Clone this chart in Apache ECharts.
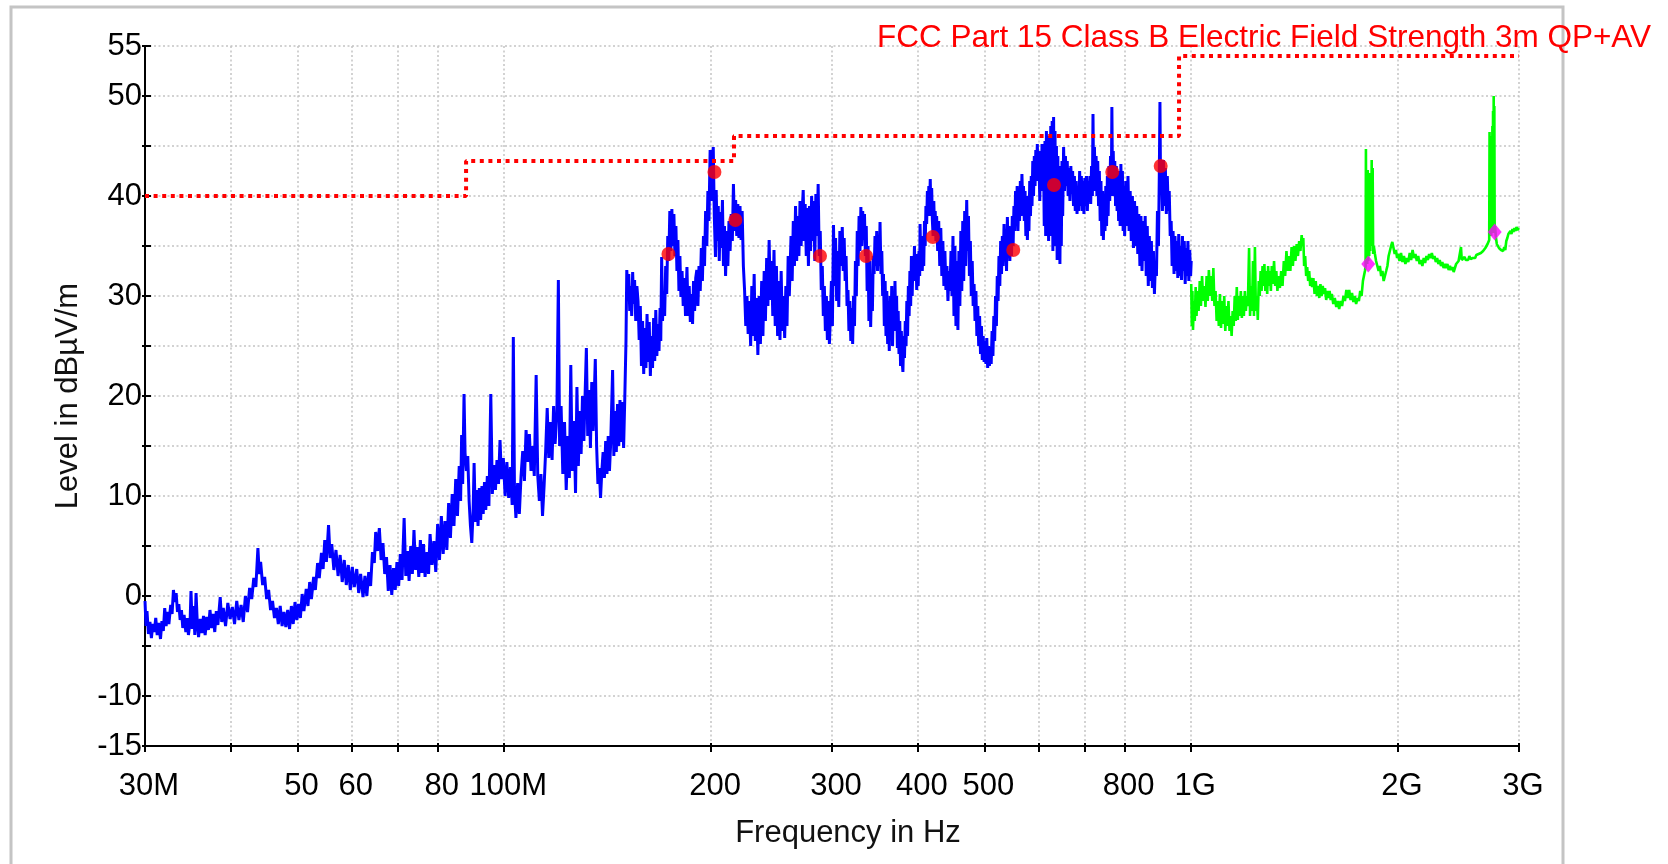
<!DOCTYPE html>
<html><head><meta charset="utf-8">
<script src="https://cdn.jsdelivr.net/npm/echarts@6/dist/echarts.min.js"></script>
<style>html,body{margin:0;padding:0;background:#fff}#c{width:1668px;height:864px}</style>
</head><body><div id="c"></div>
<script>
// ---- axis definitions (frequency in MHz, level in dBµV/m) ----
const xTickFreq = [30,40,50,60,70,80,100,200,300,400,500,600,700,800,1000,2000,3000];
const xLabelFreq = [30,50,60,80,100,200,300,400,500,800,1000,2000,3000];
const xLabelText = ['30M','50','60','80','100M','200','300','400','500','800','1G','2G','3G'];
const yLabelValues = [55,50,40,30,20,10,0,-10,-15];

// ---- limit line: FCC Part 15 Class B 3m ----
const limitFreq  = [30,88,88,216,216,960,960,3000];
const limitLevel = [40,40,43.5,43.5,46,46,54,54];

// ---- final measurement markers ----
const qpFreq  = [173.4,202.3,217.0,288.2,336.3,420.6,550.8,631.3,767.5,902.7];
const qpLevel = [34.2,42.4,37.6,34.0,34.0,35.9,34.6,41.1,42.4,43.0];
const avFreq  = [1810,2765];
const avLevel = [33.2,36.4];

// ---- preview scan 30 MHz - 1 GHz (blue) ----
const blueTrace = [
[30.0,-0.5],[30.1,-3.0],[30.2,-1.5],[30.35,-3.8],[30.5,-2.6],[30.65,-4.2],[30.8,-2.8],[30.95,-3.6],[31.1,-2.2],[31.25,-3.9],
[31.4,-2.7],[31.6,-4.3],[31.75,-2.5],[31.9,-3.5],[32.05,-1.2],[32.2,-3.0],[32.35,-1.6],[32.5,-2.8],[32.7,-0.9],[32.85,-1.8],
[33.0,0.6],[33.15,-0.6],[33.3,0.3],[33.45,-1.6],[33.6,-0.8],[33.75,-2.4],[33.9,-1.4],[34.05,-3.2],[34.2,-1.9],[34.4,-3.6],
[34.55,-2.2],[34.7,-3.9],[34.9,-2.4],[35.0,0.5],[35.15,-3.3],[35.3,-1.0],[35.45,-3.9],[35.6,0.3],[35.75,-2.8],[35.9,-4.1],
[36.1,-2.3],[36.3,-3.7],[36.5,-2.0],[36.7,-3.9],[36.9,-2.1],[37.1,-3.4],[37.3,-1.4],[37.5,-3.2],[37.7,-1.8],[37.9,-3.6],
[38.1,-1.5],[38.3,-2.9],[38.6,-0.1],[38.8,-2.6],[39.0,-1.2],[39.3,-3.0],[39.6,-0.7],[39.9,-2.3],[40.2,-1.1],[40.5,-2.8],
[40.8,-0.5],[41.1,-2.4],[41.4,-0.9],[41.7,-2.6],[42.0,0.0],[42.3,-1.6],[42.6,0.8],[42.9,-0.3],[43.2,1.8],[43.5,0.9],
[43.8,4.8],[44.0,2.2],[44.2,3.4],[44.5,1.1],[44.8,1.9],[45.1,-0.3],[45.4,0.6],[45.7,-1.4],[46.0,-0.5],[46.3,-2.2],
[46.6,-1.2],[46.9,-2.8],[47.2,-1.0],[47.5,-3.0],[47.8,-1.6],[48.1,-3.1],[48.4,-1.4],[48.7,-3.3],[49.0,-1.0],[49.3,-2.8],
[49.6,-0.6],[49.9,-2.4],[50.2,-0.8],[50.5,-2.2],[50.8,0.2],[51.1,-1.5],[51.5,0.7],[51.8,-1.0],[52.1,1.4],[52.4,-0.3],
[52.8,1.9],[53.1,0.6],[53.5,3.3],[53.8,1.8],[54.2,4.3],[54.5,2.7],[54.8,5.6],[55.1,3.4],[55.5,7.1],[55.8,3.8],
[56.1,5.2],[56.5,2.6],[56.9,4.6],[57.3,2.0],[57.7,4.1],[58.1,1.4],[58.5,3.6],[58.9,1.1],[59.3,3.1],[59.7,0.6],
[60.1,2.9],[60.5,0.9],[61.0,2.7],[61.4,0.3],[61.8,2.2],[62.3,-0.1],[62.7,2.0],[63.1,0.0],[63.5,2.4],[63.9,1.0],
[64.3,4.4],[64.7,3.3],[65.0,6.4],[65.4,4.5],[65.8,6.8],[66.2,3.6],[66.6,5.3],[67.0,2.2],[67.4,3.9],[67.8,0.5],
[68.2,3.1],[68.6,0.1],[69.0,2.8],[69.4,0.6],[69.8,3.4],[70.2,1.0],[70.6,4.2],[71.0,1.6],[71.5,7.8],[71.9,2.0],
[72.3,4.5],[72.7,1.5],[73.1,5.0],[73.5,2.2],[73.9,6.6],[74.3,2.6],[74.7,4.9],[75.1,1.9],[75.5,5.6],[75.9,2.3],
[76.3,5.2],[76.7,1.9],[77.2,4.4],[77.6,2.2],[78.0,6.2],[78.5,3.1],[79.0,5.5],[79.5,2.4],[80.0,7.2],[80.5,3.6],
[81.0,8.0],[81.5,4.2],[82.0,7.5],[82.5,4.6],[83.0,9.3],[83.5,5.8],[84.0,10.2],[84.5,7.0],[85.0,11.7],
[85.5,8.0],[86.0,13.0],[86.4,9.5],[86.7,16.1],[87.0,11.2],[87.4,20.2],[87.7,14.3],[88.1,12.5],[88.5,14.0],[88.9,9.5],
[89.3,7.0],[89.7,5.3],[90.1,8.5],[90.4,13.3],[90.8,7.4],[91.2,10.6],[91.6,7.0],[92.0,10.8],[92.4,7.6],[92.8,11.0],
[93.2,8.2],[93.6,11.4],[94.0,8.6],[94.5,12.0],[95.0,9.0],[95.6,20.2],[96.1,10.2],[96.6,13.1],[97.1,10.6],[97.6,13.6],
[98.1,11.2],[98.6,15.6],[99.1,11.7],[99.7,13.8],[100.3,10.0],[100.9,13.4],[101.5,9.8],[102.1,12.9],[102.7,9.1],[103.1,25.9],
[103.5,10.5],[104.0,7.8],[104.6,11.3],[105.2,8.2],[105.8,12.0],[106.4,14.5],[107.0,11.5],[107.6,16.6],[108.2,13.4],[108.8,16.2],
[109.4,12.5],[110.0,15.0],[110.6,12.0],[111.3,22.1],[111.9,12.0],[112.5,9.5],[113.1,12.2],[113.7,8.0],[114.3,11.0],[114.9,14.5],
[115.5,18.8],[116.1,13.8],[116.8,17.4],[117.4,13.6],[118.0,19.0],[118.6,15.2],[119.3,18.2],[119.9,31.6],[120.4,15.0],[121.0,19.0],
[121.7,12.2],[122.4,17.4],[123.1,10.6],[123.8,16.0],[124.4,11.8],[125.0,23.1],[125.6,12.5],[126.3,17.5],[127.0,10.3],[127.6,20.9],
[128.2,13.0],[128.8,18.5],[129.4,14.2],[130.0,20.0],[130.6,15.5],[131.1,19.8],[131.7,24.8],[132.3,16.0],[132.9,20.6],[133.5,14.8],
[134.1,21.4],[134.7,16.5],[135.2,19.8],[135.7,23.7],[136.3,15.0],[136.9,11.2],[137.5,12.8],[138.1,9.8],[138.7,12.5],[139.3,14.4],
[139.9,11.8],[140.5,15.5],[141.1,12.2],[141.7,16.0],[142.3,12.5],[142.9,15.4],[143.8,22.6],[144.4,14.0],[145.0,18.5],[145.6,14.4],
[146.2,19.2],[146.8,15.0],[147.4,19.6],[148.0,15.4],[148.6,19.4],[149.2,14.8],[149.8,19.8],[150.4,25.5],[150.8,32.6],[151.3,30.6],
[151.8,32.2],[152.3,28.5],[152.8,31.0],[153.3,28.0],[153.8,32.4],[154.3,29.2],[154.8,31.6],[155.4,27.5],[156.0,31.0],[156.6,29.5],
[157.2,25.6],[157.8,29.0],[158.4,23.0],[159.0,27.5],[159.6,22.2],[160.2,26.8],[160.8,22.8],[161.4,28.2],[162.0,23.4],[162.6,27.4],
[163.2,22.0],[163.8,26.0],[164.4,22.8],[165.0,27.8],[165.6,23.5],[166.2,28.6],[166.8,24.0],[167.4,27.2],[168.0,24.5],[168.6,28.8],
[169.0,25.5],[169.5,33.9],[170.0,27.5],[170.6,30.5],[171.2,28.0],[171.8,33.0],[172.4,30.2],[173.0,36.0],[173.6,33.5],[174.2,38.5],
[174.8,34.5],[175.4,38.7],[176.0,35.0],[176.6,38.2],[177.2,34.0],[177.8,37.0],[178.4,32.5],[179.0,35.6],[179.6,30.5],[180.2,34.0],
[180.8,29.9],[181.5,32.5],[182.2,29.0],[182.9,31.8],[183.6,28.0],[184.5,32.9],[185.2,28.0],[185.9,31.0],[186.6,27.4],[187.3,30.2],
[188.0,27.2],[188.6,31.5],[189.3,28.5],[190.0,31.8],[190.7,32.6],[191.4,29.0],[192.1,33.0],[192.9,30.5],[193.6,34.8],[194.3,31.5],
[195.0,36.0],[195.7,33.0],[196.4,38.5],[197.2,35.0],[197.9,40.5],[198.6,37.5],[199.4,44.6],[200.0,39.5],[200.7,43.0],[201.5,44.9],
[202.2,38.0],[203.0,33.9],[203.5,40.6],[204.2,35.5],[204.9,39.0],[205.6,33.5],[206.3,38.4],[207.0,34.8],[207.8,39.6],[208.5,33.0],
[209.2,37.0],[210.0,32.0],[210.8,36.5],[211.6,33.0],[212.4,37.5],[213.2,34.5],[214.0,38.2],[214.8,35.5],[215.6,41.2],[216.4,36.5],
[217.2,39.6],[218.0,36.0],[218.8,39.2],[219.6,35.8],[220.4,39.0],[221.2,35.6],[222.0,38.5],[222.9,33.0],[223.8,30.6],[224.7,27.0],
[225.6,30.0],[226.5,26.2],[227.4,29.5],[228.4,25.0],[229.3,31.0],[230.2,26.0],[231.1,32.2],[232.0,25.5],[233.0,29.8],[234.0,24.1],
[235.0,30.0],[236.0,25.2],[237.0,31.5],[238.0,26.0],[239.0,32.5],[240.0,27.5],[241.0,33.8],[242.0,29.0],[243.0,35.6],[244.0,29.6],
[245.0,33.5],[246.0,28.0],[247.0,34.6],[248.0,27.0],[249.0,33.0],[250.0,26.0],[251.0,31.5],[252.0,25.6],[253.0,32.5],[254.0,26.5],
[255.0,30.0],[256.0,25.8],[257.0,31.0],[258.0,27.0],[259.0,34.0],[260.0,30.0],[261.5,36.0],[262.5,31.5],[263.5,37.5],[264.5,33.0],
[265.5,39.0],[266.5,33.5],[267.5,38.0],[268.5,34.0],[269.5,39.5],[270.5,35.0],[271.5,38.5],[272.4,40.6],[273.3,35.5],[274.2,39.2],
[275.2,34.0],[276.2,38.8],[277.2,33.0],[278.2,39.0],[279.2,34.5],[280.2,40.0],[281.2,35.5],[282.2,39.5],[283.2,33.5],[284.2,40.2],
[285.3,36.0],[286.4,41.2],[287.4,34.0],[288.4,36.5],[289.4,30.6],[290.4,33.0],[291.4,28.0],[292.4,31.0],[293.4,26.5],[294.4,30.0],
[295.4,25.6],[296.4,29.5],[297.4,25.2],[298.4,28.0],[299.4,31.5],[300.4,27.0],[301.5,37.1],[302.5,31.0],[303.6,35.8],[304.7,29.5],
[305.8,34.5],[306.9,28.9],[308.0,36.5],[309.5,33.0],[310.5,36.9],[311.5,32.5],[312.5,35.8],[313.5,31.5],[314.5,34.0],[315.5,29.0],
[316.5,30.6],[317.5,26.5],[318.5,29.5],[319.5,25.5],[320.5,28.8],[321.5,25.2],[322.5,30.0],[323.5,27.0],[324.5,33.5],[325.5,30.0],
[326.5,36.5],[327.5,33.0],[328.5,38.0],[329.5,34.5],[330.5,38.9],[331.5,35.0],[332.5,38.5],[333.5,35.6],[334.5,38.2],[335.5,34.0],
[336.5,37.0],[337.5,30.5],[338.5,35.0],[339.5,27.5],[340.5,33.5],[341.5,26.9],[342.5,31.5],[343.5,28.5],[344.5,34.0],[345.5,32.2],
[346.5,36.0],[347.5,33.0],[348.5,36.5],[349.5,32.5],[350.5,35.6],[351.5,33.0],[352.4,37.4],[353.5,32.2],[354.5,34.5],[355.5,30.0],
[356.5,32.2],[357.5,27.0],[358.5,31.5],[359.5,26.0],[360.5,30.5],[361.5,25.2],[362.5,29.5],[363.5,24.5],[364.5,30.0],[365.5,26.0],
[366.5,31.0],[367.5,25.0],[368.5,30.0],[369.5,26.5],[370.5,31.5],[371.5,27.0],[372.5,30.0],[373.5,24.8],[374.5,28.5],[375.5,24.2],
[376.5,27.5],[377.5,23.0],[378.5,26.5],[379.5,23.5],[380.5,22.4],[381.5,26.0],[382.5,23.8],[383.5,27.5],[384.5,25.0],[385.5,29.5],
[386.5,26.0],[387.5,31.0],[388.5,28.0],[389.5,32.5],[390.5,29.0],[391.5,34.0],[392.5,30.0],[393.5,33.5],[394.5,31.5],[395.5,35.0],
[396.5,32.0],[397.5,34.2],[398.5,30.6],[399.5,33.5],[400.5,31.0],[401.5,34.5],[402.5,32.0],[403.0,37.2],[404.0,33.5],[405.0,36.0],
[406.0,32.5],[407.0,35.5],[408.0,33.0],[409.0,37.5],[410.0,35.0],[411.0,39.0],[412.0,37.2],[413.0,40.5],[414.0,38.0],[415.0,41.0],
[416.0,38.5],[417.0,41.7],[418.0,38.0],[419.0,40.8],[420.0,37.5],[421.0,36.0],[422.0,39.5],[423.0,36.5],[424.0,38.5],[425.0,35.5],
[426.0,38.0],[427.5,34.5],[429.0,37.5],[430.5,33.0],[432.0,36.8],[433.5,32.0],[435.0,35.5],[436.5,31.0],[438.0,34.5],[439.5,30.6],
[441.0,33.0],[442.5,29.5],[444.0,32.5],[445.5,30.5],[447.0,34.5],[448.5,30.0],[450.0,36.0],[451.5,28.0],[453.0,35.0],[454.5,27.0],
[456.0,33.5],[457.5,26.6],[459.0,34.5],[460.5,29.0],[462.0,36.5],[463.5,30.5],[465.0,37.5],[466.5,31.5],[468.0,38.5],[469.5,33.0],
[471.2,39.6],[472.5,34.5],[474.0,38.0],[475.5,32.0],[477.0,35.5],[478.5,30.0],[480.0,33.5],[481.5,29.0],[483.0,31.2],[484.5,27.5],
[486.0,30.5],[487.5,26.0],[489.0,29.0],[490.5,25.0],[492.0,28.0],[493.5,24.2],[495.0,27.0],[496.5,23.6],[498.0,26.0],[499.5,23.4],
[501.0,25.5],[502.5,23.2],[504.0,25.8],[505.5,22.8],[507.0,25.0],[508.5,23.0],[510.0,24.5],[511.5,23.2],[513.0,26.5],[514.5,24.0],
[516.0,28.0],[517.5,25.5],[519.0,30.0],[520.5,27.0],[522.0,32.0],[523.5,29.5],[525.0,34.0],[526.5,31.0],[528.0,35.5],[529.5,32.2],
[531.0,36.0],[532.5,33.0],[534.0,37.2],[535.5,33.5],[537.0,36.0],[538.5,32.5],[540.0,37.9],[541.5,34.0],[543.0,37.0],[544.5,33.5],
[546.0,36.5],[547.5,34.0],[549.0,38.0],[550.5,35.0],[552.0,39.0],[553.5,36.5],[555.0,40.5],[556.5,37.0],[558.0,41.0],[559.5,36.5],
[561.0,40.0],[562.5,37.5],[564.0,41.5],[565.5,38.0],[567.0,42.2],[568.5,39.0],[570.0,41.0],[571.5,37.5],[573.0,40.5],[574.5,36.0],
[576.0,39.5],[577.5,35.6],[579.0,40.0],[580.5,36.5],[582.0,41.5],[583.5,38.0],[585.0,42.0],[586.5,39.0],[588.0,43.5],[589.5,40.0],
[591.0,44.0],[592.5,41.0],[594.0,44.6],[595.5,41.5],[597.0,45.2],[598.5,42.0],[600.5,43.0],[602.0,39.5],[603.5,44.5],[605.0,40.5],
[606.5,45.2],[608.0,41.0],[609.5,44.0],[611.0,37.0],[612.5,45.5],[614.0,36.0],[615.5,46.5],[617.0,38.0],[618.5,44.5],[620.0,35.5],
[621.5,46.0],[623.0,37.5],[624.5,47.0],[626.0,36.0],[627.5,47.5],[629.0,34.5],[630.5,47.9],[632.0,38.0],[633.5,46.5],[635.0,35.0],
[636.5,45.0],[638.0,33.6],[639.5,44.0],[641.0,34.5],[642.5,43.0],[644.0,33.2],[645.5,42.5],[647.0,35.0],[648.5,43.5],[650.0,38.0],
[652.0,44.9],[654.0,40.5],[656.0,44.0],[658.0,41.0],[660.0,43.5],[662.0,40.0],[664.0,42.8],[666.0,39.5],[668.0,43.0],[670.0,40.2],
[672.0,42.5],[674.0,39.0],[676.0,42.0],[678.0,38.5],[680.0,41.5],[682.0,38.2],[684.0,41.0],[686.0,38.5],[688.0,42.5],[690.0,39.0],
[692.0,42.0],[694.0,38.5],[696.0,41.5],[698.0,38.2],[700.0,41.8],[702.0,39.0],[704.0,42.0],[706.0,38.5],[708.0,41.5],[710.0,39.5],
[712.0,42.0],[714.0,39.2],[716.0,43.0],[718.0,40.0],[719.5,48.2],[721.0,41.0],[723.0,44.9],[725.0,40.5],[727.0,44.0],[729.0,40.0],
[731.0,43.5],[733.0,39.0],[735.0,42.5],[737.0,37.5],[739.0,41.5],[741.0,36.0],[743.0,40.5],[745.0,35.6],[747.0,39.5],[749.0,36.5],
[751.0,41.0],[753.0,37.0],[755.0,42.0],[757.0,38.0],[759.0,43.0],[761.0,39.5],[763.0,44.0],[765.0,40.0],[766.5,48.9],[768.0,41.5],
[770.0,44.5],[772.0,40.0],[774.0,43.5],[776.0,39.0],[778.0,43.0],[780.0,38.5],[782.0,42.5],[784.0,37.5],[786.0,42.0],[788.0,37.0],
[790.0,43.2],[792.0,38.0],[794.0,42.5],[796.0,36.5],[798.0,41.0],[800.0,36.0],[803.0,41.5],[806.0,37.0],[809.0,42.0],[812.0,36.5],
[815.0,40.5],[818.0,35.5],[821.0,40.0],[824.0,34.8],[827.0,39.5],[830.0,35.0],[833.0,39.0],[836.0,34.2],[839.0,38.2],[842.0,33.0],
[845.0,38.0],[848.0,32.5],[851.0,37.5],[854.0,33.5],[857.0,38.0],[860.0,32.0],[863.0,37.0],[866.0,31.0],[869.0,36.0],[872.0,31.5],
[875.0,35.5],[878.0,30.8],[881.0,34.5],[884.0,30.2],[887.0,33.5],[890.0,32.0],[893.0,38.5],[896.0,35.0],[898.5,42.0],[900.5,49.4],
[902.5,40.5],[905.0,43.0],[908.0,38.5],[911.0,43.6],[914.0,39.0],[917.0,42.8],[920.0,38.2],[923.0,42.0],[926.0,38.5],[929.0,40.5],
[932.0,36.0],[935.0,37.5],[938.0,33.0],[941.0,36.5],[944.0,32.2],[947.0,36.0],[950.0,32.5],[953.0,35.5],[956.0,31.8],[959.0,36.2],
[962.0,32.0],[965.0,35.0],[968.0,31.6],[971.0,36.0],[974.0,32.5],[977.0,35.5],[980.0,31.2],[983.0,34.8],[986.0,32.0],[989.0,35.5],
[992.0,31.5],[995.0,34.6],[998.0,32.0],[1000.0,33.5]
];

// ---- preview scan 1 GHz - 3 GHz (green) ----
const greenTrace = [
[1000,31.2],[1002,27.0],[1004,30.5],[1006,26.6],[1009,29.5],[1012,27.5],[1015,30.9],[1018,28.0],[1021,30.5],[1025,28.5],
[1029,31.5],[1033,29.0],[1037,32.0],[1041,29.5],[1045,31.0],[1049,28.9],[1053,32.0],[1057,29.5],[1061,32.6],[1065,30.0],
[1069,32.0],[1073,29.5],[1077,32.8],[1081,29.0],[1085,30.5],[1089,27.5],[1093,29.5],[1097,27.0],[1101,30.2],[1105,26.8],
[1109,29.5],[1113,27.2],[1117,30.0],[1121,26.5],[1125,29.0],[1129,27.0],[1133,29.5],[1137,26.5],[1141,28.0],[1145,26.0],
[1149,28.5],[1153,27.0],[1157,30.0],[1161,27.5],[1165,30.9],[1169,27.6],[1173,30.0],[1177,28.0],[1181,30.5],[1185,27.8],
[1189,30.0],[1193,28.0],[1197,30.5],[1201,28.5],[1205,30.0],[1209,29.0],[1214,34.8],[1218,28.0],[1222,31.0],[1226,28.5],
[1230,33.5],[1234,28.0],[1238,34.9],[1242,28.5],[1246,30.0],[1250,27.6],[1254,31.5],[1258,30.0],[1262,32.5],[1266,30.5],
[1270,33.0],[1274,31.0],[1278,33.2],[1282,30.5],[1286,32.5],[1290,30.2],[1294,33.0],[1298,31.0],[1302,32.5],[1306,30.5],
[1310,33.0],[1315,31.2],[1320,33.5],[1325,31.0],[1330,32.5],[1335,30.5],[1340,32.0],[1346,30.8],[1352,32.5],[1358,31.0],
[1364,33.5],[1370,32.0],[1376,34.5],[1382,32.5],[1388,34.0],[1394,32.5],[1400,34.9],[1406,33.0],[1412,35.0],[1418,33.5],
[1424,35.2],[1430,34.0],[1436,35.5],[1442,34.5],[1448,36.1],[1452,35.0],[1456,35.8],[1460,33.0],[1465,34.0],[1470,32.0],
[1475,32.9],[1480,31.5],[1485,32.5],[1490,31.0],[1495,31.8],[1500,30.9],[1506,31.8],[1512,30.2],[1518,31.5],[1524,30.0],
[1530,31.0],[1536,29.8],[1542,31.2],[1548,30.0],[1554,31.0],[1560,30.2],[1566,30.8],[1572,29.6],[1578,30.5],[1584,29.8],
[1590,30.5],[1596,29.6],[1602,30.2],[1610,29.2],[1618,29.8],[1626,28.9],[1634,29.5],[1642,28.7],[1650,29.5],[1658,29.0],
[1666,30.0],[1674,29.5],[1682,30.6],[1690,29.8],[1698,30.6],[1706,29.6],[1714,30.3],[1722,29.4],[1730,30.0],[1738,29.2],
[1746,29.8],[1754,29.5],[1762,30.5],[1770,30.0],[1778,31.5],[1784,32.0],[1790,32.5],[1794,33.0],[1796,44.7],[1798,33.5],
[1801,42.5],[1804,33.2],[1807,42.6],[1810,33.5],[1813,42.0],[1816,34.0],[1819,42.3],[1822,34.5],[1825,41.5],[1828,35.0],
[1831,43.6],[1834,35.0],[1837,42.8],[1840,34.2],[1844,35.0],[1851,34.2],[1858,33.5],[1866,33.0],[1874,32.5],[1882,33.0],
[1890,32.0],[1898,32.5],[1906,31.5],[1914,31.4],[1922,32.5],[1930,33.0],[1938,34.0],[1946,34.5],[1954,35.0],[1962,35.4],
[1970,34.8],[1978,34.2],[1986,34.6],[1994,33.8],[2002,34.2],[2010,33.5],[2020,34.3],[2030,33.4],[2040,34.0],[2050,33.2],
[2060,33.8],[2070,33.4],[2080,34.3],[2090,33.6],[2100,34.6],[2110,33.8],[2120,34.2],[2130,33.5],[2140,34.0],[2150,33.2],
[2160,33.6],[2170,33.0],[2180,33.8],[2190,33.3],[2200,34.0],[2210,33.6],[2220,34.2],[2230,33.8],[2240,34.3],[2250,33.7],
[2260,34.0],[2270,33.4],[2280,33.8],[2290,33.2],[2300,33.6],[2310,33.0],[2320,33.4],[2330,32.8],[2340,33.2],[2350,32.8],
[2360,33.2],[2370,32.6],[2380,33.0],[2390,32.6],[2400,32.9],[2410,32.4],[2420,32.6],[2430,33.2],[2440,33.0],[2450,33.5],
[2460,33.4],[2470,34.9],[2476,33.6],[2484,33.8],[2492,33.5],[2500,33.9],[2510,33.6],[2520,33.8],[2530,33.6],[2540,34.0],
[2550,33.7],[2560,33.9],[2570,33.8],[2580,34.0],[2590,33.8],[2600,34.1],[2610,33.9],[2620,34.2],[2630,34.0],[2640,34.3],
[2650,34.1],[2660,34.5],[2670,34.3],[2680,34.8],[2690,34.6],[2700,35.2],[2708,35.0],[2715,35.6],[2718,46.4],[2721,36.0],
[2724,46.0],[2727,36.2],[2730,45.8],[2733,36.0],[2737,45.5],[2740,36.4],[2744,47.0],[2747,36.5],[2750,48.5],[2753,36.3],
[2756,50.0],[2759,36.8],[2762,49.0],[2765,36.6],[2769,37.0],[2775,36.0],[2785,35.2],[2795,35.4],[2805,34.8],[2815,35.0],
[2825,34.6],[2835,34.8],[2845,34.5],[2855,34.9],[2865,34.6],[2875,35.5],[2885,35.8],[2895,36.2],[2905,36.0],[2915,36.5],
[2925,36.2],[2935,36.7],[2945,36.4],[2955,36.8],[2965,36.5],[2975,36.9],[2985,36.6],[3000,36.8]
];

// ---- build chart ----
const FONT = 'Liberation Sans, Arial, sans-serif';
const L = f => Math.log10(f);
const XMIN = L(30), XMAX = L(3000);
const toXY = arr => arr.map(p => [L(p[0]), p[1]]);
const zipXY = (fs, ls) => fs.map((f, i) => [L(f), ls[i]]);
const tickVals = xTickFreq.map(L);
const labelVals = xLabelFreq.map(L);
const xLabelFmt = v => {
  const i = xLabelFreq.findIndex(f => Math.abs(L(f) - v) < 1e-6);
  return i >= 0 ? xLabelText[i] : '';
};

const chart = echarts.init(document.getElementById('c'), null, {renderer: 'canvas'});
chart.setOption({
  animation: false,
  backgroundColor: '#ffffff',
  title: {
    text: 'FCC Part 15 Class B Electric Field Strength 3m QP+AV',
    left: 877, top: 22, padding: 0,
    textStyle: {color: '#ff0000', fontSize: 31.5, fontWeight: 'normal', fontFamily: FONT}
  },
  graphic: [{
    type: 'rect', z: -10, silent: true,
    shape: {x: 11, y: 7, width: 1552, height: 900},
    style: {fill: null, stroke: '#c4c4c4', lineWidth: 3}
  }],
  grid: {left: 145, top: 46, width: 1374, height: 700, containLabel: false},
  xAxis: [{
    type: 'value', min: XMIN, max: XMAX,
    name: 'Frequency in Hz', nameLocation: 'middle', nameGap: 72,
    nameTextStyle: {color: '#111', fontSize: 31, fontFamily: FONT, padding: [0, 0, 0, 32]},
    axisLine: {show: true, onZero: false, lineStyle: {color: '#000', width: 2}},
    axisTick: {show: true, inside: false, length: 6, customValues: tickVals, lineStyle: {color: '#000', width: 2}},
    axisLabel: {show: true, customValues: labelVals, formatter: xLabelFmt, margin: 25,
      color: '#000', fontSize: 31, fontFamily: FONT, padding: [0, 0, 0, 8]},
    splitLine: {show: true, lineStyle: {color: '#c4c4c4', width: 1.5, type: [2, 2.5]}}
  }, {
    type: 'value', min: XMIN, max: XMAX, position: 'bottom', offset: 0,
    axisLine: {show: false, onZero: false},
    axisTick: {show: true, inside: true, length: 3, customValues: tickVals, lineStyle: {color: '#000', width: 2}},
    axisLabel: {show: false}, splitLine: {show: false}
  }],
  yAxis: [{
    type: 'value', min: -15, max: 55, interval: 5,
    name: 'Level in dBµV/m', nameLocation: 'middle', nameGap: 61,
    nameTextStyle: {color: '#111', fontSize: 31, fontFamily: FONT},
    axisLine: {show: true, onZero: false, lineStyle: {color: '#000', width: 2}},
    axisTick: {show: true, inside: true, length: 6, lineStyle: {color: '#000', width: 2}},
    axisLabel: {show: true, margin: 3, color: '#000', fontSize: 31, fontFamily: FONT,
      formatter: v => yLabelValues.includes(v) ? String(v) : ''},
    splitLine: {show: true, lineStyle: {color: '#c4c4c4', width: 1.5, type: [2, 2.5]}}
  }, {
    type: 'value', min: -15, max: 55, interval: 5, position: 'left', offset: 0,
    axisLine: {show: false, onZero: false},
    axisTick: {show: true, inside: false, length: 3, lineStyle: {color: '#000', width: 2}},
    axisLabel: {show: false}, splitLine: {show: false}
  }],
  series: [
    {type: 'line', name: 'Preview 30M-1G', data: toXY(blueTrace), showSymbol: false, z: 2,
      lineStyle: {color: '#0000ff', width: 3}, itemStyle: {color: '#0000ff'}},
    {type: 'line', name: 'Preview 1G-3G', data: toXY(greenTrace), showSymbol: false, z: 2,
      lineStyle: {color: '#00ff00', width: 2.6}, itemStyle: {color: '#00ff00'}},
    {type: 'line', name: 'Limit', data: zipXY(limitFreq, limitLevel), showSymbol: false, z: 3,
      lineStyle: {color: '#ff0000', width: 4, type: [4, 4.6]}, itemStyle: {color: '#ff0000'}},
    {type: 'scatter', name: 'QP', data: zipXY(qpFreq, qpLevel), symbol: 'circle', symbolSize: 14, z: 4,
      itemStyle: {color: '#ff0000'}},
    {type: 'scatter', name: 'AV', data: zipXY(avFreq, avLevel), symbol: 'diamond', symbolSize: [14, 17], z: 4,
      itemStyle: {color: '#ff00ff'}}
  ]
});
</script>
</body></html>
